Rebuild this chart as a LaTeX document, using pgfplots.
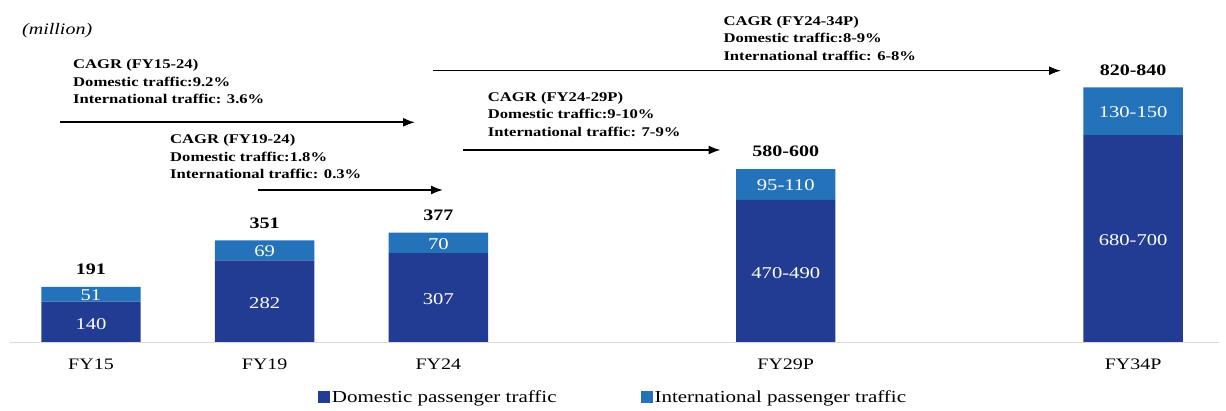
\documentclass[border=0pt]{standalone}
\usepackage{fontspec}
\setmainfont{Liberation Serif}[FakeStretch=1.25]
\usepackage{pgfplots}
\usepackage{pgfplotstable}
\pgfplotsset{compat=1.18}
\usetikzlibrary{arrows.meta}

\definecolor{domblue}{HTML}{233C93}
\definecolor{intblue}{HTML}{2372BA}
\definecolor{axisgray}{HTML}{D9D9D9}
\newcommand{\fs}[1]{\fontsize{#1}{#1}\selectfont}
\tikzset{total/.style={anchor=center, inner sep=0pt, font=\bfseries\fs{16}, yshift=17.5pt}}

% passenger traffic (million); projected years drawn at mid/upper range
\pgfplotstableread{
x dom int domlab intlab
0 140 51 140 51
1 282 69 282 69
2 307 70 307 70
4 490 105 470-490 95-110
6 712 164 680-700 130-150
}\traffic

% CAGR note: x, baseline of first line (px from top), three lines
\newcommand{\cagr}[5]{%
  \node[anchor=base west, inner sep=0pt, font=\bfseries\fs{13.3}] at (#1,{410-#2}) {#3};
  \node[anchor=base west, inner sep=0pt, font=\bfseries\fs{13.3}] at (#1,{410-#2-17.6}) {#4};
  \node[anchor=base west, inner sep=0pt, font=\bfseries\fs{13.3}] at (#1,{410-#2-35.2}) {#5};
}

\begin{document}
\begin{tikzpicture}
\useasboundingbox (0pt,0pt) rectangle (1226pt,410pt);
\begin{axis}[
    at={(0pt,0pt)}, anchor=south west,
    scale only axis, width=1226pt, height=410pt,
    xmin=-0.5239, xmax=6.5343, ymin=-231.8, ymax=1176.2,
    enlargelimits=false, clip=false,
    ybar stacked, bar width=99.4pt,
    axis line style={draw=none}, tick style={draw=none},
    ytick=\empty,
    xtick={0,1,2,4,6}, xticklabels={FY15,FY19,FY24,FY29P,FY34P},
    xticklabel style={anchor=base, yshift=40.5pt, inner sep=0pt, font=\fs{16}},
    legend columns=2,
    legend style={draw=none, fill=none, font=\fs{16.8},
        at={(0.5,0.031)}, anchor=center,
        /tikz/every even column/.append style={column sep=82pt}},
]
\draw[axisgray, line width=1.5pt] (axis cs:-0.466,0) -- (axis cs:6.494,0);

\addplot[fill=domblue, draw=none,
    legend image code/.code={\fill[domblue] (0pt,-6pt) rectangle (12pt,6pt);},
    nodes near coords, point meta=explicit symbolic,
    every node near coord/.style={anchor=center, text=white, inner sep=0pt,
        font=\fs{16.5}, yshift=-1.5pt}]
    table[x=x, y=dom, meta=domlab] {\traffic};
\addlegendentry{Domestic passenger traffic}

\addplot[fill=intblue, draw=none,
    legend image code/.code={\fill[intblue] (0pt,-6pt) rectangle (12pt,6pt);},
    nodes near coords, point meta=explicit symbolic,
    every node near coord/.style={anchor=center, text=white, inner sep=0pt,
        font=\fs{16.5}, yshift=-0.8pt}]
    table[x=x, y=int, meta=intlab] {\traffic};
\addlegendentry{International passenger traffic}

% totals above the bars
\node[total] at (axis cs:0,191) {191};
\node[total] at (axis cs:1,351) {351};
\node[total] at (axis cs:2,377) {377};
\node[total] at (axis cs:4,595) {580-600};
\node[total] at (axis cs:6,876) {820-840};
\end{axis}

\begin{scope}[x=1pt, y=1pt]
\node[anchor=base west, inner sep=0pt, font=\itshape\fs{16}] at (22,{410-35}) {(million)};

\cagr{73}{68.5}{CAGR (FY15-24)}{Domestic traffic:9.2\%}{International traffic: 3.6\%}
\cagr{170}{143.8}{CAGR (FY19-24)}{Domestic traffic:1.8\%}{International traffic: 0.3\%}
\cagr{487.7}{101.2}{CAGR (FY24-29P)}{Domestic traffic:9-10\%}{International traffic: 7-9\%}
\cagr{723.3}{25.2}{CAGR (FY24-34P)}{Domestic traffic:8-9\%}{International traffic: 6-8\%}

\begin{scope}[line width=1.6pt, -{Latex[length=12pt, width=9pt]}]
\draw (60,{410-122.3}) -- (415,{410-122.3});
\draw (258,{410-190}) -- (443,{410-190});
\draw (462.7,{410-150}) -- (720.5,{410-150});
\draw (433,{410-70.7}) -- (1061,{410-70.7});
\end{scope}
\end{scope}
\end{tikzpicture}
\end{document}
